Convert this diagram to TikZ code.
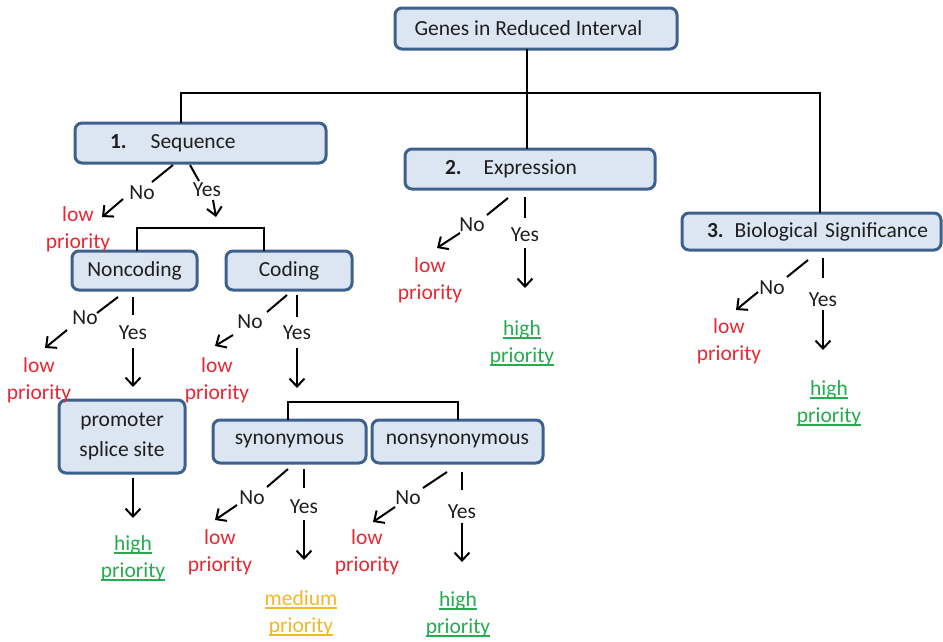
\documentclass[tikz,border=0pt]{standalone}
\usepackage{fontspec}
\setmainfont{Carlito}
\usetikzlibrary{arrows.meta}
\definecolor{boxblue}{RGB}{62,96,140}
\definecolor{boxfill}{RGB}{220,230,242}
\definecolor{lowred}{RGB}{232,40,52}
\definecolor{higreen}{RGB}{40,170,80}
\definecolor{medorange}{RGB}{240,185,40}
\definecolor{ink}{RGB}{30,30,30}
\newcommand\fsz{\fontsize{21.5}{27}\selectfont}
\newcommand\myul[1]{\leavevmode\setbox0\hbox{#1}\rlap{\rule[-3.6pt]{\wd0}{1.8pt}}\box0}
\begin{document}
\begin{tikzpicture}[x=1pt,y=-1pt,
  box/.style={draw=boxblue, fill=boxfill, line width=3pt, rounded corners=7pt, inner sep=0pt, font=\fsz, text=ink},
  lab/.style={font=\fsz, inner sep=0pt, text=ink},
  lowlab/.style={font=\fsz, inner sep=0pt, text=lowred, align=center},
  highlab/.style={font=\fsz, inner sep=0pt, text=higreen, align=center},
  medlab/.style={font=\fsz, inner sep=0pt, text=medorange, align=center},
  conn/.style={line width=2pt, draw=black},
  arr/.style={line width=2pt, draw=black, -{Straight Barb[length=8pt,width=15pt,line width=2pt]}}]
\useasboundingbox (0,0) rectangle (943,641);

% boxes
\node[box, minimum width=282pt, minimum height=41pt] (genes) at (536,28.5) {Genes in Reduced Interval\rule{15pt}{0pt}};
\node[box, minimum height=40pt, text width=181pt, inner xsep=35pt, align=left] (seq) at (200.5,143) {\mbox{\textbf{1.}\hspace{24pt}Sequence}};
\node[box, minimum height=40pt, text width=170pt, inner xsep=40pt, align=left] (expr) at (530,169) {\mbox{\textbf{2.}\hspace{22pt}Expression}};
\node[box, minimum height=37pt, text width=209pt, inner xsep=25pt, align=left] (bio) at (811.5,231.5) {\mbox{\textbf{3.}\hspace{11pt}Biological Significance}};
\node[box, minimum width=125pt, minimum height=39pt] (nonc) at (134.5,270.5) {Noncoding};
\node[box, minimum width=126pt, minimum height=39pt] (cod) at (289,270.5) {Coding};
\node[box, minimum width=126pt, minimum height=73pt, align=center, font=\fontsize{21.5}{30}\selectfont] (prom) at (122,436.5) {promoter\\splice site};
\node[box, minimum width=153pt, minimum height=43pt] (syn) at (289.5,441.5) {synonymous};
\node[box, minimum width=171pt, minimum height=43pt] (nsyn) at (457.5,441.5) {nonsynonymous};

% tree lines
\coordinate (gstem) at (527,49);
\coordinate (hl) at (181,93);
\coordinate (hr) at (820,93);
\draw[conn] (gstem) -- (527,149);
\draw[conn] (181,123) -- (hl) -- (hr) -- (820,213);
\draw[conn] (137,251) -- (137,228) -- (264,228) -- (264,251);
\draw[conn] (288,420) -- (288,402) -- (458,402) -- (458,420);

% Sequence branch
\node[lab] (seqno) at (142,193) {No};
\node[lab] (seqyes) at (207,190) {Yes};
\node[lowlab] (seqlow) at (78,229) {low\\priority};
\draw[conn] (173,165) -- (152,182);
\draw[arr] (123,199) -- (102,217);
\draw[conn] (190,165) -- (199,181);
\draw[arr] (213,200) -- (216,217);

% Noncoding branch
\node[lab] (ncno) at (85,318) {No};
\node[lab] (ncyes) at (133,333) {Yes};
\node[lowlab] (nclow) at (39,380) {low\\priority};
\draw[conn] (118,297) -- (97,313);
\draw[arr] (67,330) -- (45,348);
\draw[conn] (133,297) -- (133,315);
\draw[arr] (133,348) -- (133,387);

% Coding branch
\node[lab] (cno) at (250,322) {No};
\node[lab] (cyes) at (297,333) {Yes};
\node[lowlab] (clow) at (217,380) {low\\priority};
\draw[conn] (287,295) -- (267,312);
\draw[arr] (233,335) -- (215,346);
\draw[conn] (297,295) -- (297,317);
\draw[arr] (297,348) -- (297,388);

% promoter
\node[highlab] (promhigh) at (133,558) {\myul{high}\\\myul{priority}};
\draw[arr] (133,478) -- (133,518);

% Expression branch
\node[lab] (eno) at (472,225) {No};
\node[lab] (eyes) at (525,235) {Yes};
\node[lowlab] (elow) at (430,280) {low\\priority};
\node[highlab] (ehigh) at (522,343) {\myul{high}\\\myul{priority}};
\draw[conn] (508,198) -- (487,215);
\draw[arr] (460,233) -- (437,248);
\draw[conn] (525,197) -- (525,218);
\draw[arr] (525,248) -- (525,288);

% Biological significance branch
\node[lab] (bno) at (772,288) {No};
\node[lab] (byes) at (823,300) {Yes};
\node[lowlab] (blow) at (729,341) {low\\priority};
\node[highlab] (bhigh) at (829,403) {\myul{high}\\\myul{priority}};
\draw[conn] (808,260) -- (787,277);
\draw[arr] (758,292) -- (736,310);
\draw[conn] (823,258) -- (823,278);
\draw[arr] (823,310) -- (823,350);

% synonymous branch
\node[lab] (sno) at (252,498) {No};
\node[lab] (syes) at (304,507) {Yes};
\node[lowlab] (slow) at (220,552) {low\\priority};
\node[medlab] (smed) at (301,613) {\myul{medium}\\\myul{priority}};
\draw[conn] (288,469) -- (267,487);
\draw[arr] (237,505) -- (215,520);
\draw[conn] (304,469) -- (304,488);
\draw[arr] (304,520) -- (304,560);

% nonsynonymous branch
\node[lab] (nno) at (408,498) {No};
\node[lab] (nyes) at (462,512) {Yes};
\node[lowlab] (nlow) at (367,552) {low\\priority};
\node[highlab] (nhigh) at (458,614) {\myul{high}\\\myul{priority}};
\draw[conn] (447,472) -- (423,488);
\draw[arr] (395,507) -- (373,522);
\draw[conn] (462,472) -- (462,490);
\draw[arr] (462,523) -- (462,562);
\end{tikzpicture}
\end{document}
